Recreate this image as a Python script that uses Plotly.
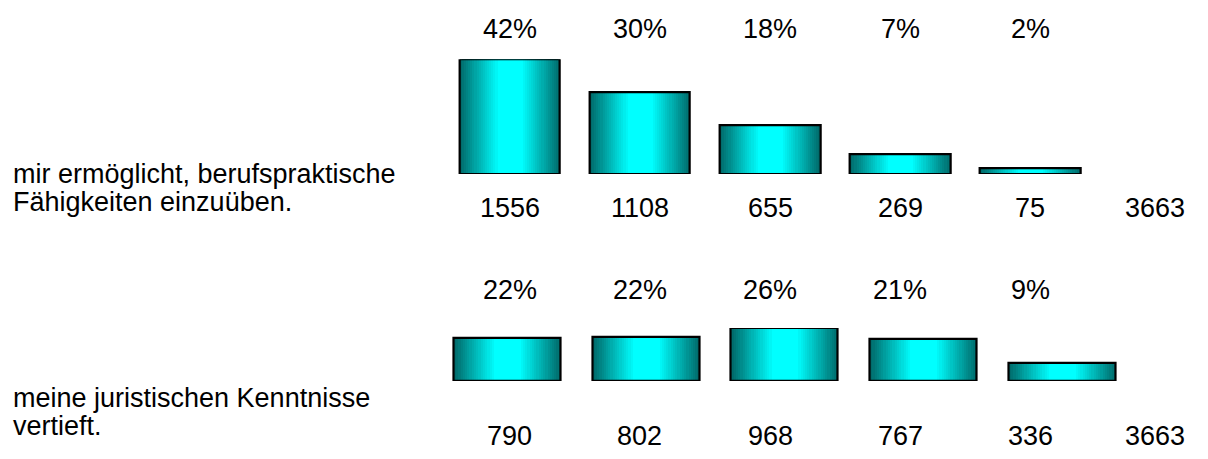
import plotly.graph_objects as go

# data
labels_1 = ['mir ermöglicht, berufspraktische', 'Fähigkeiten einzuüben.']
labels_2 = ['meine juristischen Kenntnisse', 'vertieft.']
positions = [0, 1, 2, 3, 4]
counts_1 = [1556, 1108, 655, 269, 75]
counts_2 = [790, 802, 968, 767, 336]
percents_1 = ['42%', '30%', '18%', '7%', '2%']
percents_2 = ['22%', '22%', '26%', '21%', '9%']
total_1 = 3663
total_2 = 3663

# page body has an 8px margin, so the figure is 16px smaller than the window
OFF = 8
W, H = 1192, 443
FONT = dict(family='Arial, Liberation Sans, sans-serif', size=27, color='black')


def px_x(p):
    # screen pixel -> paper fraction
    return (p - OFF) / W


def px_y(p):
    return 1 - (p - OFF) / H


fig = go.Figure()

# horizontal gradient faked with stacked, narrowing bars (dark teal edges -> cyan middle)
n_layers = 24
bar_width = 0.772
for counts, xa, ya in [(counts_1, 'x', 'y'), (counts_2, 'x2', 'y2')]:
    for k in range(n_layers):
        t = min(1.0, k / (n_layers * 0.75))
        g = int(108 + (255 - 108) * t)
        fig.add_trace(go.Bar(x=positions, y=counts, width=bar_width * (1 - k / n_layers),
                             marker=dict(color=f'rgb(0,{g},{g})', line_width=0),
                             xaxis=xa, yaxis=ya, hoverinfo='skip', showlegend=False))
    # outline on top
    fig.add_trace(go.Bar(x=positions, y=counts, width=bar_width,
                         marker=dict(color='rgba(0,0,0,0)', line=dict(color='black', width=2.2)),
                         xaxis=xa, yaxis=ya, hoverinfo='skip', showlegend=False))

annotations = []
rows = [
    (percents_1, counts_1, total_1, labels_1, 29, 208, (174, 202)),
    (percents_2, counts_2, total_2, labels_2, 290, 436, (398, 426)),
]
for percents, counts, total, labels, y_pct, y_cnt, y_lab in rows:
    for i, p, c in zip(positions, percents, counts):
        annotations.append(dict(x=i, xref='x', y=px_y(y_pct), yref='paper', text=p,
                                showarrow=False, font=FONT, yanchor='middle'))
        annotations.append(dict(x=i, xref='x', y=px_y(y_cnt), yref='paper', text=str(c),
                                showarrow=False, font=FONT, yanchor='middle'))
    annotations.append(dict(x=4.96, xref='x', y=px_y(y_cnt), yref='paper', text=str(total),
                            showarrow=False, font=FONT, yanchor='middle'))
    for line, yl in zip(labels, y_lab):
        annotations.append(dict(x=px_x(11), xref='paper', y=px_y(yl), yref='paper', text=line,
                                showarrow=False, font=FONT, xanchor='left', yanchor='middle'))

fig.update_layout(
    width=W, height=H,
    margin=dict(l=0, r=0, t=0, b=0),
    paper_bgcolor='white', plot_bgcolor='white',
    barmode='overlay', bargap=0,
    showlegend=False,
    annotations=annotations,
    xaxis=dict(range=[-0.5, 5.3], domain=[px_x(444.75), px_x(1199.5)], visible=False, fixedrange=True),
    yaxis=dict(range=[0, max(counts_1)], domain=[px_y(174), px_y(59.2)], visible=False, fixedrange=True),
    xaxis2=dict(range=[-0.5, 4.5], domain=[px_x(437.6), px_x(1131.4)], visible=False, fixedrange=True),
    yaxis2=dict(range=[0, max(counts_2)], domain=[px_y(381), px_y(328)], visible=False, fixedrange=True),
)

fig.write_html('out.html')
